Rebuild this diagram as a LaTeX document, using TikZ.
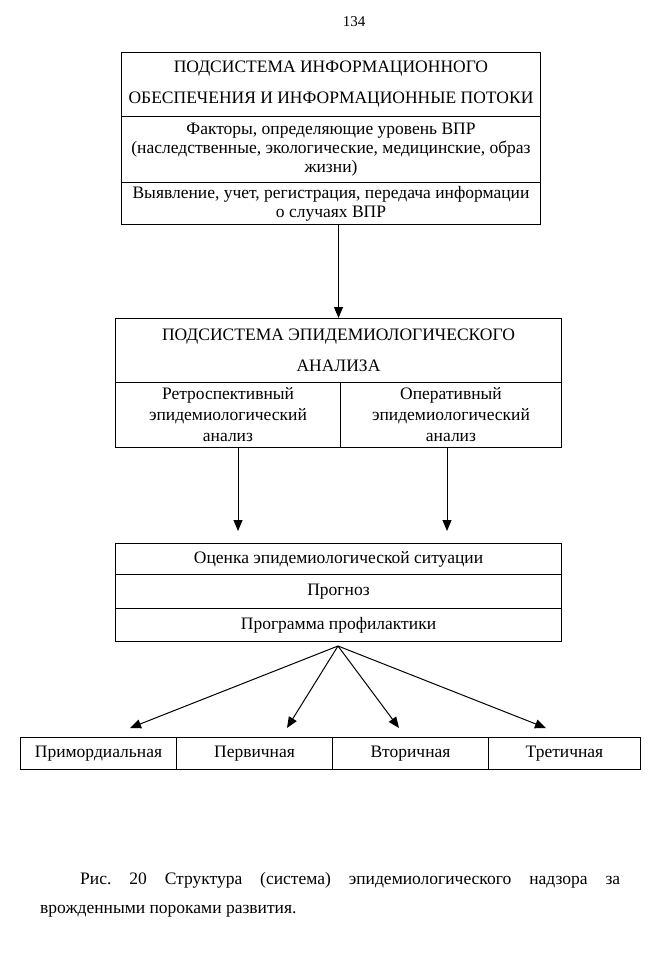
\documentclass[tikz,border=0pt]{standalone}
\usepackage{fontspec}
\setmainfont{Liberation Serif}
\usetikzlibrary{arrows.meta}

\tikzset{
  cell/.style={draw,black,line width=1pt,anchor=north west,inner sep=0pt,
    align=center,font=\fontsize{17.5}{19}\selectfont},
  head/.style={cell,font=\fontsize{17.5}{31}\selectfont},
  tip/.style={black,line width=1pt,-{Triangle[length=11pt,width=9pt]}}
}

\begin{document}
\begin{tikzpicture}[x=1pt,y=-1pt]
  \useasboundingbox (0,0) rectangle (660,960);

  % Page number.
  \node[font=\fontsize{15}{16}\selectfont] (page) at (354,22) {134};

  % Information subsystem.
  \node[head,minimum width=419,minimum height=64] (info) at (121,52)
    {ПОДСИСТЕМА ИНФОРМАЦИОННОГО\\ОБЕСПЕЧЕНИЯ И ИНФОРМАЦИОННЫЕ ПОТОКИ};
  \node[cell,minimum width=419,minimum height=66] (factors) at (121,116)
    {Факторы, определяющие уровень ВПР\\(наследственные, экологические, медицинские, образ\\жизни)};
  \node[cell,minimum width=419,minimum height=42] (detect) at (121,182)
    {Выявление, учет, регистрация, передача информации\\о случаях ВПР};

  % Epidemiological analysis subsystem.
  \node[head,minimum width=446,minimum height=64] (epid) at (115,318)
    {ПОДСИСТЕМА ЭПИДЕМИОЛОГИЧЕСКОГО\\АНАЛИЗА};
  \node[cell,font=\fontsize{17.5}{21}\selectfont,minimum width=225,minimum height=65] (retro) at (115,382)
    {Ретроспективный\\эпидемиологический\\анализ};
  \node[cell,font=\fontsize{17.5}{21}\selectfont,minimum width=221,minimum height=65] (oper) at (340,382)
    {Оперативный\\эпидемиологический\\анализ};

  % Assessment, forecast, programme.
  \node[cell,minimum width=446,minimum height=31] (assess) at (115,543)
    {Оценка эпидемиологической ситуации};
  \node[cell,minimum width=446,minimum height=34] (forecast) at (115,574)
    {Прогноз};
  \node[cell,minimum width=446,minimum height=33] (program) at (115,608)
    {Программа профилактики};

  % Levels of prevention.
  \node[cell,minimum width=156,minimum height=32] (prim) at (20,737) {Примордиальная};
  \node[cell,minimum width=156,minimum height=32] (first) at (176,737) {Первичная};
  \node[cell,minimum width=156,minimum height=32] (second) at (332,737) {Вторичная};
  \node[cell,minimum width=152,minimum height=32] (third) at (488,737) {Третичная};

  % Arrows.
  \draw[tip] (detect.south -| epid.north) -- (epid.north);
  \draw[tip,shorten >=12pt] ([xshift=10pt]retro.south) -- ([xshift=10pt]retro.south |- assess.north);
  \draw[tip,shorten >=12pt] ([xshift=-4pt]oper.south) -- ([xshift=-4pt]oper.south |- assess.north);

  \coordinate (fan) at (338,646);
  \coordinate (tprim) at (130,728);
  \coordinate (tfirst) at (287,728);
  \coordinate (tsecond) at (399,728);
  \coordinate (tthird) at (546,728);
  \foreach \t in {tprim,tfirst,tsecond,tthird}
    \draw[tip] (fan) -- (\t);

  % Caption.
  \node[anchor=north west,inner sep=0pt,text width=580pt,align=justify,
    font=\fontsize{17.5}{29.5}\selectfont] (caption) at (40,872)
    {\frenchspacing\hspace*{40pt}Рис. 20 Структура (система) эпидемиологического надзора за\linebreak
     врожденными пороками развития.};
\end{tikzpicture}
\end{document}
